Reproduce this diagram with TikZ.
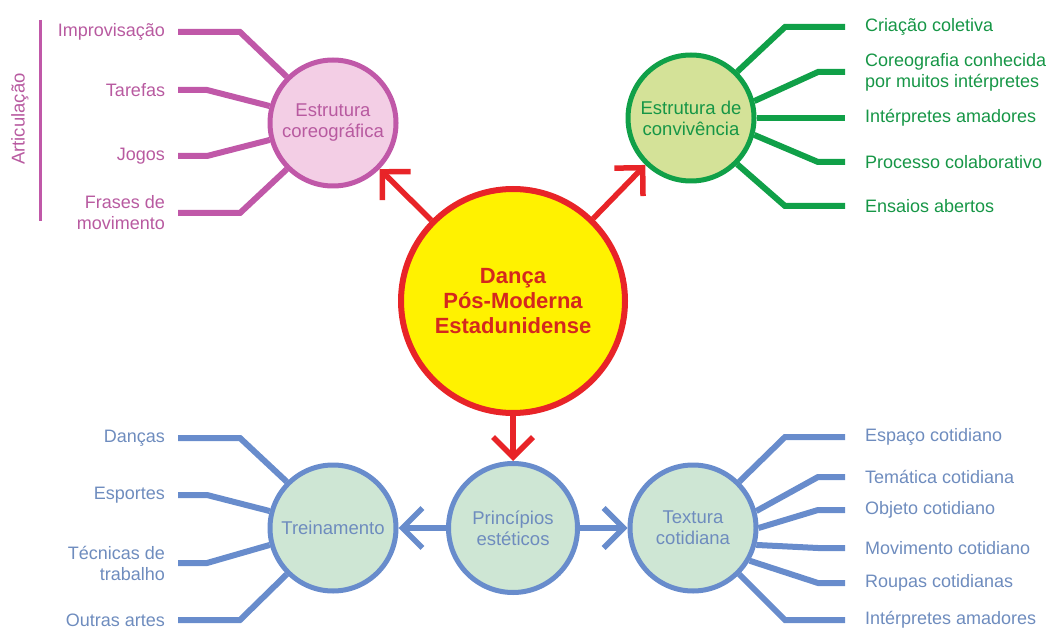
\documentclass[tikz,border=0pt]{standalone}
\usepackage{fontspec}
\setmainfont{Liberation Sans}
\usepackage{xcolor}
\usepackage{tikz}
\usetikzlibrary{arrows.meta}

\definecolor{pinkline}{RGB}{192,88,168}
\definecolor{pinkfill}{RGB}{243,206,229}
\definecolor{pinktext}{RGB}{184,90,160}
\definecolor{greenline}{RGB}{16,160,72}
\definecolor{greenfill}{RGB}{212,226,152}
\definecolor{greentext}{RGB}{22,150,70}
\definecolor{blueline}{RGB}{104,140,204}
\definecolor{bluefill}{RGB}{206,230,212}
\definecolor{bluetext}{RGB}{110,140,190}
\definecolor{redline}{RGB}{232,36,40}
\definecolor{redtext}{RGB}{212,40,30}
\definecolor{sunfill}{RGB}{255,242,0}

\tikzset{
  bubble/.style={circle,line width=5pt,minimum size=126pt,inner sep=0pt,align=center,
    font=\fontsize{18.5}{21}\selectfont},
  lblleft/.style={anchor=east,inner sep=0pt,outer sep=0pt,align=right,
    font=\fontsize{18}{21}\selectfont},
  lblright/.style={anchor=west,inner sep=0pt,outer sep=0pt,align=left,
    font=\fontsize{18}{21}\selectfont},
  branch/.style={line width=6pt},
  bigarrow/.style={line width=5.5pt,-{Straight Barb[length=20pt,width=40pt]}}
}

\begin{document}
\begin{tikzpicture}[x=1pt,y=-1pt]
  \useasboundingbox (0,0) rectangle (1051,628);

  \node[bubble,draw=redline,fill=sunfill,line width=6pt,minimum size=224pt,
    text=redtext,font=\fontsize{22}{25}\selectfont\bfseries] at (513,301) (danca)
    {Dança\\Pós-Moderna\\Estadunidense};
  \node[bubble,draw=pinkline,fill=pinkfill,text=pinktext] at ([xshift=-180pt,yshift=178pt]danca) (coreo)
    {Estrutura\\coreográfica};
  \node[bubble,draw=greenline,fill=greenfill,text=greentext] at ([xshift=178pt,yshift=183pt]danca) (conviv)
    {Estrutura de\\convivência};
  \node[bubble,draw=blueline,fill=bluefill,text=bluetext,minimum size=129pt] at ([yshift=-227pt]danca) (princ)
    {Princípios\\estéticos};
  \node[bubble,draw=blueline,fill=bluefill,text=bluetext] at ([xshift=-180pt]princ) (trein) {Treinamento};
  \node[bubble,draw=blueline,fill=bluefill,text=bluetext] at ([xshift=180pt]princ) (textura)
    {Textura\\cotidiana};

  \draw[bigarrow,redline] (danca) -- (coreo);
  \draw[bigarrow,redline] (danca) -- (conviv);
  \draw[bigarrow,redline] (danca) -- (princ);
  \draw[bigarrow,blueline] (princ) -- (trein);
  \draw[bigarrow,blueline] (princ) -- (textura);

  % estrutura coreografica
  \node[lblleft,text=pinktext] at (165,32) (impro) {Improvisação};
  \node[lblleft,text=pinktext] at (165,90) (tarefas) {Tarefas};
  \node[lblleft,text=pinktext] at (165,156) (jogos) {Jogos};
  \node[lblleft,text=pinktext] at (165,213) (frases) {Frases de\\movimento};
  \draw[branch,pinkline,shorten >=13pt] (coreo.135) -- (240,32) -- (impro.east);
  \draw[branch,pinkline,shorten >=13pt] (coreo.165) -- (207,90) -- (tarefas.east);
  \draw[branch,pinkline,shorten >=13pt] (coreo.195) -- (207,156) -- (jogos.east);
  \draw[branch,pinkline,shorten >=13pt] (coreo.225) -- (240,213) -- (frases.east);

  \coordinate (artop) at (40,20);
  \coordinate (arbot) at (40,221);
  \draw[pinkline,line width=3pt] (artop) -- (arbot);
  \node[rotate=90,text=pinktext,font=\fontsize{18.5}{21}\selectfont] at (20,119) (artic) {Articulação};

  % estrutura de convivencia
  \node[lblright,text=greentext] at (865,27) (criacao) {Criação coletiva};
  \node[lblright,text=greentext] at (865,72) (coreog) {Coreografia conhecida\\por muitos intérpretes};
  \node[lblright,text=greentext] at (865,118) (interp) {Intérpretes amadores};
  \node[lblright,text=greentext] at (865,162) (processo) {Processo colaborativo};
  \node[lblright,text=greentext] at (865,206) (ensaios) {Ensaios abertos};
  \draw[branch,greenline,shorten >=20pt] (conviv.45) -- (785,27) -- (criacao.west);
  \draw[branch,greenline,shorten >=20pt] (conviv.15) -- (818,72) -- (coreog.west);
  \draw[branch,greenline,shorten >=20pt] (conviv.0) -- (interp.west);
  \draw[branch,greenline,shorten >=20pt] (conviv.-15) -- (818,162) -- (processo.west);
  \draw[branch,greenline,shorten >=20pt] (conviv.-45) -- (785,206) -- (ensaios.west);

  % treinamento
  \node[lblleft,text=bluetext] at (165,438) (dancas) {Danças};
  \node[lblleft,text=bluetext] at (165,495) (esportes) {Esportes};
  \node[lblleft,text=bluetext] at (165,563) (tecnicas) {Técnicas de\\trabalho};
  \node[lblleft,text=bluetext] at (165,620) (outras) {Outras artes};
  \draw[branch,blueline,shorten >=13pt] (trein.135) -- (240,438) -- (dancas.east);
  \draw[branch,blueline,shorten >=13pt] (trein.165) -- (207,495) -- (esportes.east);
  \draw[branch,blueline,shorten >=13pt] (trein.195) -- (207,563) -- (tecnicas.east);
  \draw[branch,blueline,shorten >=13pt] (trein.225) -- (240,620) -- (outras.east);

  % textura cotidiana
  \node[lblright,text=bluetext] at (865,437) (espaco) {Espaço cotidiano};
  \node[lblright,text=bluetext] at (865,477) (tematica) {Temática cotidiana};
  \node[lblright,text=bluetext] at (865,510) (objeto) {Objeto cotidiano};
  \node[lblright,text=bluetext] at (865,548) (movim) {Movimento cotidiano};
  \node[lblright,text=bluetext] at (865,583) (roupas) {Roupas cotidianas};
  \node[lblright,text=bluetext] at (865,620) (interpb) {Intérpretes amadores};
  \draw[branch,blueline,shorten >=20pt] (textura.45) -- (785,437) -- (espaco.west);
  \draw[branch,blueline,shorten >=20pt] (textura.15) -- (818,477) -- (tematica.west);
  \draw[branch,blueline,shorten >=20pt] (textura.0) -- (818,510) -- (objeto.west);
  \draw[branch,blueline,shorten >=20pt] (textura.-15) -- (818,548) -- (movim.west);
  \draw[branch,blueline,shorten >=20pt] (textura.-30) -- (818,583) -- (roupas.west);
  \draw[branch,blueline,shorten >=20pt] (textura.-45) -- (785,620) -- (interpb.west);

\end{tikzpicture}
\end{document}
